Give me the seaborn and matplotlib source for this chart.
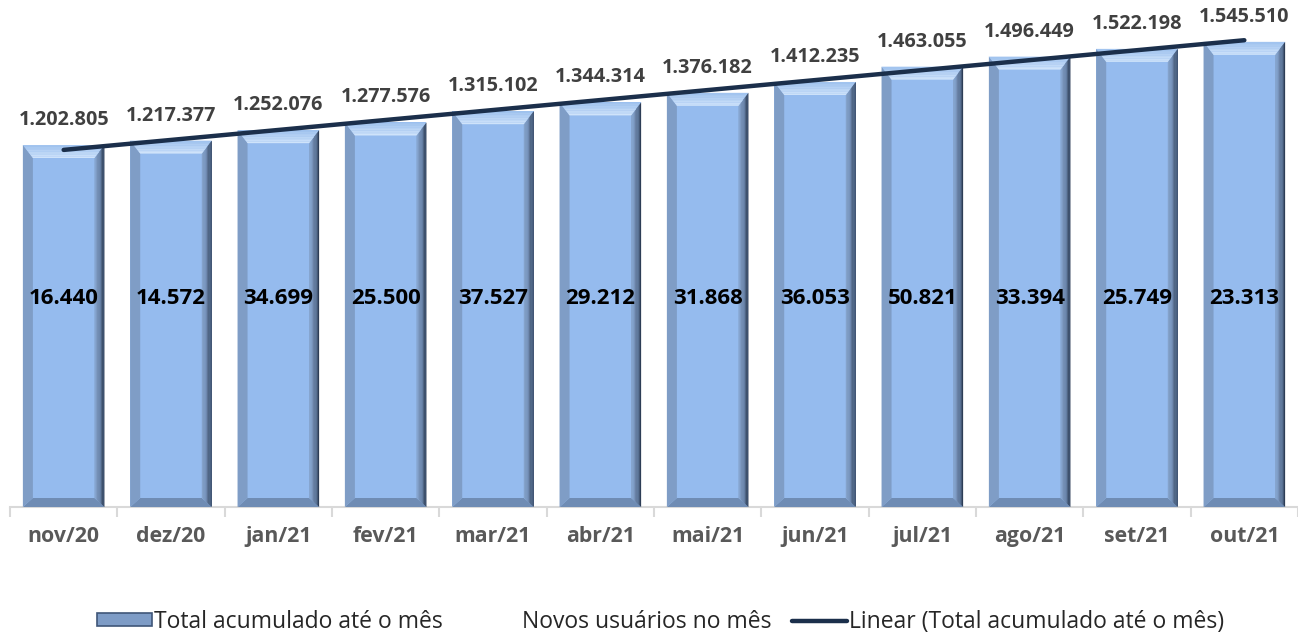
import numpy as np
import pandas as pd
import matplotlib
matplotlib.use("Agg")
import matplotlib.pyplot as plt
import seaborn as sns
from matplotlib.patches import Polygon, Patch
from matplotlib.lines import Line2D
from matplotlib.colors import to_rgb

# data
months = ["nov/20", "dez/20", "jan/21", "fev/21", "mar/21", "abr/21",
          "mai/21", "jun/21", "jul/21", "ago/21", "set/21", "out/21"]
total = [1202805, 1217377, 1252076, 1277576, 1315102, 1344314,
         1376182, 1412235, 1463055, 1496449, 1522198, 1545510]
novos = [16440, 14572, 34699, 25500, 37527, 29212,
         31868, 36053, 50821, 33394, 25749, 23313]

FACE = "#95BBEE"
TOP_OUT = "#9FC2EE"
TOP_IN = "#D2E5FB"
LEFT = "#7F9DC6"
BOTTOM = "#6F8CB4"
RIGHT_IN = "#86A4CD"
RIGHT_OUT = "#24334A"
TREND = "#1B2F4B"


def fmt(v):
    return f"{v:,}".replace(",", ".")


def mix(c1, c2, t):
    a, b = np.array(to_rgb(c1)), np.array(to_rgb(c2))
    return tuple(a + (b - a) * t)


def add_bevel(ax, bar, bx, bt, bb, n=8):
    """Fake the Excel bevel effect on top of a seaborn bar"""
    x0 = bar.get_x()
    x1 = x0 + bar.get_width()
    h = bar.get_height()
    ax.add_patch(Polygon([(x0, 0), (x1, 0), (x1 - bx, bb), (x0 + bx, bb)],
                         color=BOTTOM, lw=0, zorder=3))
    ax.add_patch(Polygon([(x0, 0), (x0 + bx, bb), (x0 + bx, h - bt), (x0, h)],
                         color=LEFT, lw=0, zorder=3))
    for i in range(n):
        fa, fb = i / n, (i + 1) / n
        # top: lighter towards the inner edge
        ax.add_patch(Polygon([(x0 + bx * fa, h - bt * fa),
                              (x1 - bx * fa, h - bt * fa),
                              (x1 - bx * fb, h - bt * fb),
                              (x0 + bx * fb, h - bt * fb)],
                             color=mix(TOP_OUT, TOP_IN, (i + 0.5) / n),
                             lw=0, zorder=3))
        # right side darkens towards the edge (ga, gb = share of depth)
        ga, gb = (n - i) / n, (n - i - 1) / n
        xa, xb = x1 - bx * ga, x1 - bx * gb
        ax.add_patch(Polygon([(xa, bb * ga), (xb, bb * gb),
                              (xb, h - bt * gb), (xa, h - bt * ga)],
                             color=mix(RIGHT_IN, RIGHT_OUT, ((i + 0.5) / n) ** 1.5),
                             lw=0, zorder=3))


sns.set_theme(style="white")
plt.rcParams['font.family'] = ['Open Sans', 'DejaVu Sans']

fig = plt.figure(figsize=(12.98, 6.34), dpi=100)
ax = fig.add_axes([10 / 1298, 127 / 634, 1288 / 1298, 507 / 634])

df = pd.DataFrame({"mes": months, "total": total})
sns.barplot(data=df, x="mes", y="total", color=FACE, saturation=1,
            width=0.76, edgecolor="none", ax=ax, zorder=2)

ax.set_xlim(-0.5, len(months) - 0.5)
ax.set_ylim(0, 1684600)

# bevel sizes in px converted to data units
px_x = len(months) / 1288
px_y = 1684600 / 507
for bar in ax.patches[:len(months)]:
    add_bevel(ax, bar, 10 * px_x, 13 * px_y, 9 * px_y)

# linear trend of the accumulated total
xs = np.arange(len(months))
coef = np.polyfit(xs, total, 1)
ax.plot(xs, np.polyval(coef, xs), color=TREND, lw=3.2,
        solid_capstyle="round", zorder=5)

for i, (t, n) in enumerate(zip(total, novos)):
    ax.annotate(fmt(t), (i, t), xytext=(0, 18), textcoords="offset points",
                ha="center", va="center", fontsize=14.3, fontweight="bold",
                color="#404040")
    ax.text(i, 0.412, fmt(n), transform=ax.get_xaxis_transform(),
            ha="center", va="center", fontsize=16, fontweight="bold",
            color="black", zorder=6)

ax.set_xlabel("")
ax.set_ylabel("")
ax.set_yticks([])
for s in ["top", "left", "right"]:
    ax.spines[s].set_visible(False)
ax.spines["bottom"].set_color("#D9D9D9")
ax.spines["bottom"].set_linewidth(1.5)
ax.set_xticks(np.arange(-0.5, len(months), 1), minor=True)
ax.tick_params(axis="x", which="major", length=0, pad=14,
               labelsize=15.3, labelcolor="#595959")
ax.tick_params(axis="x", which="minor", length=7, width=1.5,
               color="#D9D9D9", bottom=True)
for lab in ax.get_xticklabels():
    lab.set_fontweight("bold")

handles = [
    Patch(facecolor="#7E9CC6", edgecolor="#3F5678", lw=1.2),
    Patch(facecolor="none", edgecolor="none"),
    Line2D([0], [0], color=TREND, lw=3.2),
]
labels = ["Total acumulado até o mês", "Novos usuários no mês",
          "Linear (Total acumulado até o mês)"]
fig.legend(handles, labels, loc="center", bbox_to_anchor=(0.509, 0.019),
           ncol=3, frameon=False, fontsize=16.5, handlelength=2.4,
           handleheight=0.5, handletextpad=0.12, columnspacing=0.9,
           labelcolor="#262626")

fig.savefig("out.png", dpi=100)
